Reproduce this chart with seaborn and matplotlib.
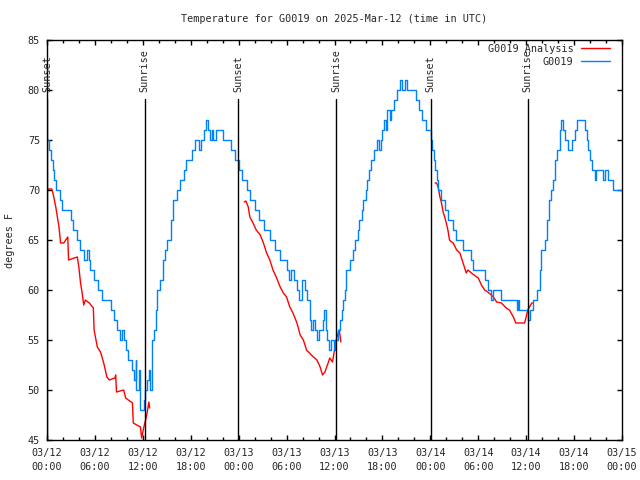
import pandas as pd
import seaborn as sns
import matplotlib
matplotlib.use("Agg")
import matplotlib.pyplot as plt
import matplotlib.dates as mdates
from matplotlib.lines import Line2D

start = pd.Timestamp("2025-03-12 00:00")
title = "Temperature for G0019 on 2025-Mar-12 (time in UTC)"

# station obs (hours after start, deg F) - stepped
obs_hours = [0.0, 0.3, 0.5, 0.7, 0.9, 1.1, 1.6, 1.9, 3.0, 3.3, 3.7, 4.1, 4.6, 5.0, 5.2,
             5.4, 5.9, 6.4, 6.9, 8.0, 8.4, 8.8, 9.1, 9.4, 9.6, 9.9, 10.2, 10.6, 10.9,
             11.1, 11.2, 11.5, 11.6, 12.1, 12.3, 12.5, 12.8, 12.9, 13.2, 13.4, 13.6,
             13.8, 14.2, 14.5, 14.8, 15.0, 15.5, 15.8, 16.3, 16.7, 17.1, 17.4, 18.1,
             18.5, 19.0, 19.3, 19.6, 19.9, 20.1, 20.4, 20.6, 20.8, 21.1, 22.0, 23.1,
             23.5, 24.0, 24.4, 25.0, 25.4, 26.0, 26.6, 27.2, 27.9, 28.5, 29.2, 30.1,
             30.3, 30.6, 30.9, 31.3, 31.5, 31.9, 32.3, 32.6, 32.9, 33.1, 33.3, 33.6,
             33.8, 34.1, 34.5, 34.7, 34.9, 35.1, 35.3, 35.6, 35.9, 36.1, 36.4, 36.7,
             36.9, 37.1, 37.3, 37.5, 38.0, 38.3, 38.6, 38.9, 39.1, 39.4, 39.6, 39.9,
             40.1, 40.3, 40.6, 40.9, 41.3, 41.6, 41.8, 42.0, 42.2, 42.4, 42.6, 42.9,
             43.1, 43.4, 43.8, 44.2, 44.5, 44.8, 45.1, 46.2, 46.6, 47.0, 47.4, 48.1,
             48.2, 48.4, 48.6, 48.8, 49.0, 49.3, 49.8, 50.2, 50.8, 51.2, 52.1, 53.1,
             53.3, 54.9, 55.2, 55.6, 55.9, 56.9, 58.9, 59.0, 59.1, 60.2, 60.5, 60.9,
             61.3, 61.7, 61.9, 62.3, 62.6, 62.8, 63.1, 63.3, 63.6, 63.9, 64.2, 64.4,
             64.6, 64.9, 65.3, 65.8, 66.1, 66.4, 67.4, 67.6, 67.8, 68.0, 68.3, 68.6,
             68.8, 69.6, 69.9, 70.2, 70.9, 72.0]
obs_temps = [75, 74, 73, 72, 71, 70, 69, 68, 67, 66, 65, 64, 63, 64, 63,
             62, 61, 60, 59, 58, 57, 56, 55, 56, 55, 54, 53, 52, 51,
             53, 50, 52, 48, 49, 50, 51, 52, 50, 55, 56, 58,
             60, 61, 63, 64, 65, 67, 69, 70, 71, 72, 73, 74,
             75, 74, 75, 76, 77, 76, 75, 76, 75, 76, 75, 74,
             73, 72, 71, 70, 69, 68, 67, 66, 65, 64, 63, 62,
             61, 62, 61, 60, 59, 61, 60, 59, 57, 56, 57, 56,
             55, 56, 57, 58, 56, 55, 54, 55, 54, 55, 56, 57,
             58, 59, 60, 62, 63, 64, 65, 66, 67, 68, 69, 70,
             71, 72, 73, 74, 75, 74, 75, 76, 77, 76, 78, 77,
             78, 79, 80, 81, 80, 81, 80, 79, 78, 77, 76, 75,
             74, 73, 72, 71, 70, 69, 68, 67, 66, 65, 64, 63,
             62, 61, 60, 59, 60, 59, 58, 59, 58, 57, 58, 59,
             60, 62, 64, 65, 67, 69, 70, 71, 73, 74, 76, 77,
             76, 75, 74, 75, 76, 77, 76, 75, 74, 73, 72, 71,
             72, 71, 72, 71, 70, 70]

# analysis, three overnight pieces
ana1_hours = [0.0, 0.6, 0.8, 1.1, 1.5, 1.7, 2.1, 2.6, 2.7, 3.4, 3.8, 4.0, 4.2, 4.4, 4.6,
              4.8, 5.3, 5.8, 5.9, 6.3, 6.7, 7.1, 7.5, 7.8, 8.5, 8.6, 8.7, 9.6, 9.85,
              10.7, 10.8, 11.7, 11.85, 12.1, 12.35, 12.6, 12.75, 12.85]
ana1_temps = [70.1, 70.1, 69.5, 68.3, 66.3, 64.7, 64.7, 65.3, 63.0, 63.2, 63.3, 62.2, 60.7,
              59.7, 58.5, 59.0, 58.7, 58.2, 56.0, 54.3, 53.8, 52.7, 51.3, 51.0, 51.2, 51.5,
              49.8, 50.0, 49.2, 48.7, 46.7, 46.3, 45.2, 46.2, 47.0, 48.0, 48.8, 48.2]
ana2_hours = [24.7, 24.9, 25.2, 25.4, 25.8, 26.2, 26.7, 27.1, 27.5, 27.9, 28.3, 28.7, 29.2,
              29.6, 30.0, 30.4, 30.8, 31.3, 31.7, 32.1, 32.5, 33.1, 33.8, 34.2, 34.5,
              34.8, 35.2, 35.4, 35.75, 36.0, 36.3, 36.6, 36.8]
ana2_temps = [68.8, 68.9, 68.3, 67.3, 66.7, 66.0, 65.5, 64.7, 63.7, 63.0, 62.0, 61.3, 60.3,
              59.7, 59.3, 58.3, 57.7, 56.7, 55.5, 55.0, 54.0, 53.5, 53.0, 52.3, 51.5,
              51.8, 52.7, 53.2, 52.8, 54.0, 55.3, 56.0, 54.8]
ana3_hours = [48.6, 48.8, 49.0, 49.2, 49.4, 49.6, 49.8, 50.0, 50.2, 50.4, 50.65, 50.85,
              51.3, 51.7, 52.1, 52.5, 52.7, 53.15, 53.8, 54.0, 54.4, 54.8, 55.2, 55.9,
              56.3, 56.9, 57.5, 57.9, 58.4, 58.7, 59.4, 59.8, 60.0, 60.2, 60.7, 60.8]
ana3_temps = [70.7, 70.7, 70.2, 69.3, 68.7, 67.8, 67.3, 66.7, 66.0, 65.0, 64.8, 64.7,
              64.0, 63.7, 62.7, 61.7, 62.0, 61.7, 61.3, 61.2, 60.5, 60.0, 59.8, 59.3,
              58.8, 58.7, 58.2, 58.0, 57.3, 56.7, 56.7, 56.7, 57.3, 58.0, 58.7, 58.7]

sunset_hours = [0.0, 23.97, 48.03]
sunrise_hours = [12.25, 36.23, 60.2]


def to_time(h):
    return start + pd.to_timedelta(h, unit="h")


obs = pd.DataFrame({"time": to_time(obs_hours), "temp": obs_temps})
ana = pd.concat([
    pd.DataFrame({"time": to_time(ana1_hours), "temp": ana1_temps, "seg": 1}),
    pd.DataFrame({"time": to_time(ana2_hours), "temp": ana2_temps, "seg": 2}),
    pd.DataFrame({"time": to_time(ana3_hours), "temp": ana3_temps, "seg": 3}),
])

sns.set_style("ticks")
plt.rcParams["font.family"] = ["DejaVu Sans Mono"]
plt.rcParams["font.size"] = 7.3

fig = plt.figure(figsize=(6.4, 4.8), dpi=100)
ax = fig.add_axes([47 / 640, 40 / 480, 575 / 640, 400 / 480])

red = "#ff0000"
blue = "#0080ff"
sns.lineplot(data=ana, x="time", y="temp", units="seg", estimator=None,
             color=red, lw=1, ax=ax, legend=False)
sns.lineplot(data=obs, x="time", y="temp", drawstyle="steps-post",
             color=blue, lw=1, ax=ax, legend=False)

# sunrise / sunset markers
for lab, hrs in [("Sunset", sunset_hours), ("Sunrise", sunrise_hours)]:
    for h in hrs:
        t = to_time(h)
        ax.axvline(t, ymin=0, ymax=(79.1 - 45) / 40, color="black", lw=1)
        ax.text(t, 79.8, lab, rotation=90, ha="center", va="bottom")

ax.set_xlim(start, to_time(72))
ax.set_ylim(45, 85)
ax.set_yticks(range(45, 86, 5))
ax.xaxis.set_major_locator(mdates.HourLocator(byhour=[0, 6, 12, 18]))
ax.xaxis.set_minor_locator(mdates.HourLocator(byhour=range(0, 24, 2)))
ax.xaxis.set_major_formatter(mdates.DateFormatter("%m/%d\n%H:%M"))
ax.tick_params(which="both", direction="in", top=True, right=True,
               color="black", width=1)
ax.tick_params(which="major", length=3.6)
ax.tick_params(axis="x", which="major", pad=6)
ax.tick_params(axis="y", which="major", pad=5)
ax.tick_params(which="minor", length=2.2)
for s in ax.spines.values():
    s.set_color("black")
    s.set_linewidth(1)
ax.set_xlabel("")
ax.set_ylabel("")

fig.text(10 / 640, 0.5, "degrees F", rotation=90, ha="center", va="center")
fig.text(334 / 640, 1 - 19 / 480, title, ha="center", va="center")

handles = [Line2D([], [], color=red, lw=1), Line2D([], [], color=blue, lw=1)]
ax.legend(handles, ["G0019 Analysis", "G0019"], loc="upper right",
          bbox_to_anchor=((610 - 47) / 575, (440 - 44) / 400), frameon=False,
          markerfirst=False, handlelength=2.9, handletextpad=0.7,
          labelspacing=0.3, borderpad=0, borderaxespad=0)

fig.canvas.draw()
for lbl in ax.get_xticklabels():
    lbl.set_linespacing(1.4)

fig.savefig("out.png", dpi=100)
